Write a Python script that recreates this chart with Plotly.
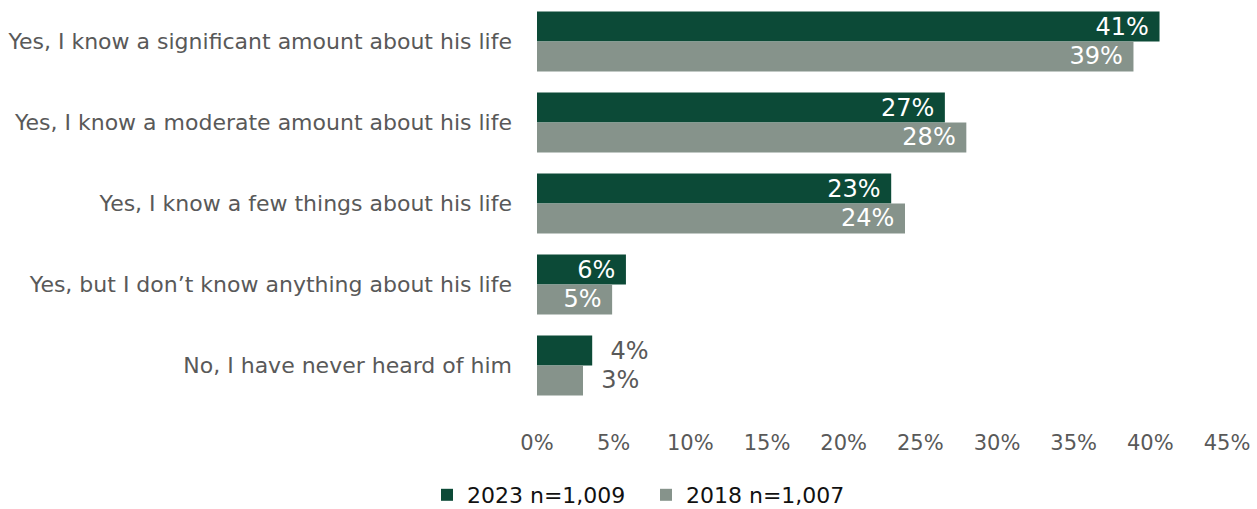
import plotly.graph_objects as go

categories = [
    "Yes, I know a significant amount about his life",
    "Yes, I know a moderate amount about his life",
    "Yes, I know a few things about his life",
    "Yes, but I don\u2019t know anything about his life",
    "No, I have never heard of him",
]
values_2023 = [40.6, 26.6, 23.1, 5.8, 3.6]
values_2018 = [38.9, 28.0, 24.0, 4.9, 3.0]
series_names = ["2023 n=1,009", "2018 n=1,007"]
x_ticks = [0, 5, 10, 15, 20, 25, 30, 35, 40, 45]
x_tick_labels = [f"{t}%" for t in x_ticks]

DARK = "#0c4a37"
GREY = "#86938b"
FONT = "DejaVu Sans"

# the last category's bars are too short to hold their labels
inside = [True, True, True, True, False]


fig = go.Figure()
for name, vals, color in [
    (series_names[0], values_2023, DARK),
    (series_names[1], values_2018, GREY),
]:
    fig.add_trace(go.Bar(
        y=categories,
        x=vals,
        name=name,
        orientation="h",
        marker=dict(color=color, line=dict(width=0)),
        texttemplate=["%{x:.0f}% " if i else "  %{x:.0f}%" for i in inside],
        textposition=["inside" if i else "outside" for i in inside],
        insidetextanchor="end",
        insidetextfont=dict(color="white", size=24, family=FONT),
        outsidetextfont=dict(color="#595959", size=24, family=FONT),
        cliponaxis=False,
        hoverinfo="skip",
    ))

fig.update_layout(
    width=1257,
    height=509,
    margin=dict(l=537, r=30, t=1, b=103),
    barmode="group",
    bargap=0.26,
    bargroupgap=0,
    plot_bgcolor="white",
    paper_bgcolor="white",
    font=dict(family=FONT, size=20, color="#595959"),
    uniformtext=dict(minsize=24, mode="show"),
    showlegend=True,
    legend=dict(
        orientation="h",
        x=646 / 1257,
        xref="container",
        xanchor="center",
        y=14 / 509,
        yref="container",
        yanchor="middle",
        font=dict(size=22, color="#111111", family=FONT),
        itemwidth=30,
        entrywidth=174,
        entrywidthmode="pixels",
        traceorder="normal",
    ),
    xaxis=dict(
        range=[0, 45],
        tickvals=x_ticks,
        ticktext=x_tick_labels,
        showgrid=False,
        zeroline=False,
        showline=False,
        ticklabelstandoff=22,
        tickfont=dict(size=21, color="#595959"),
        fixedrange=True,
    ),
    yaxis=dict(
        autorange="reversed",
        showgrid=False,
        showline=False,
        ticklabelstandoff=24,
        tickfont=dict(size=22, color="#595959"),
        fixedrange=True,
    ),
)

fig.write_html("out.html")
